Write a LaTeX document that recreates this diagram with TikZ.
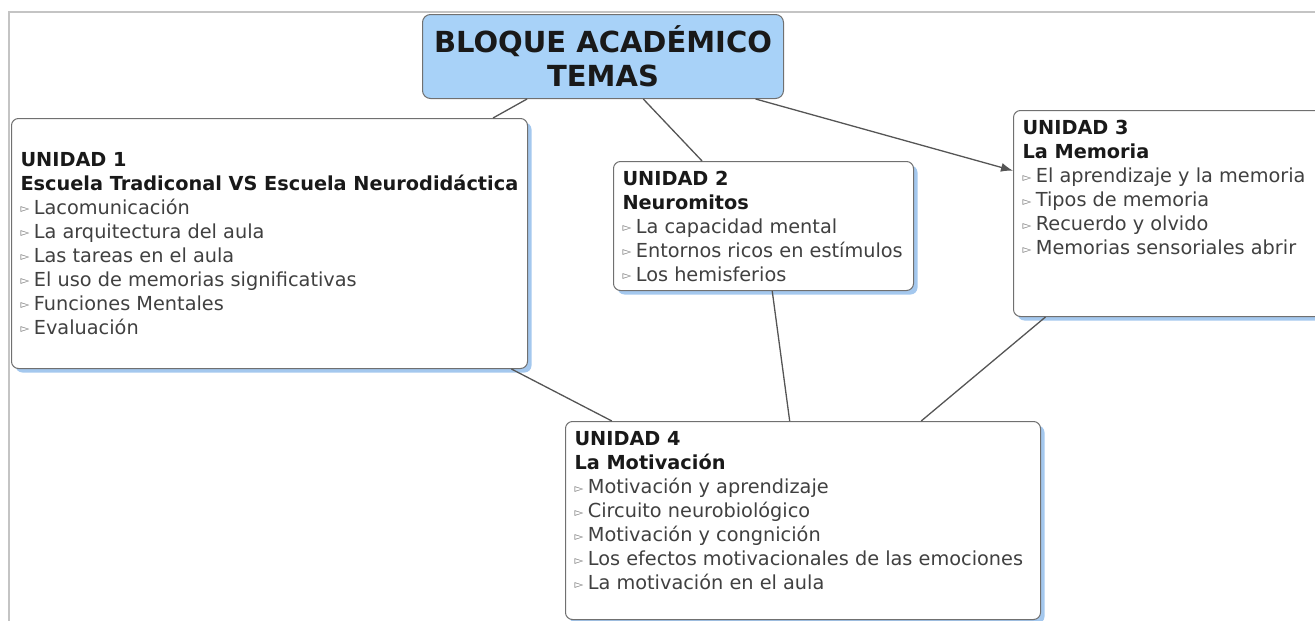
\documentclass[tikz,border=0pt]{standalone}
\usepackage{fontspec}
\setmainfont{DejaVu Sans}
\usetikzlibrary{arrows.meta,shadows}

\definecolor{azultema}{HTML}{A8D2F8}
\definecolor{sombra}{HTML}{A4C8EE}
\definecolor{borde}{HTML}{707070}
\definecolor{linea}{HTML}{555555}
\definecolor{texto}{HTML}{404040}
\definecolor{marco}{HTML}{C4C4C4}

% bullet item of a unit
\newcommand{\itm}[1]{\raisebox{1.5pt}{\fontsize{11.5}{11.5}\selectfont\color{texto!70}▻}\hspace{4.5pt}{\color{texto}#1}}
\newcommand{\cabeza}[1]{{\bfseries\color{black!90}#1}}

\tikzset{
	tema/.style={draw=borde, line width=1pt, fill=azultema, rounded corners=8pt,
		anchor=north west, minimum width=361pt, minimum height=84pt, align=center,
		font=\bfseries\fontsize{29}{34}\selectfont, text=black!90},
	unidad/.style={draw=borde, line width=1pt, fill=white, rounded corners=7pt,
		anchor=north west, inner xsep=9pt, inner ysep=10pt,
		drop shadow={shadow xshift=4pt, shadow yshift=-4pt, fill=sombra, opacity=1},
		font=\fontsize{19.3}{24}\selectfont},
	enlace/.style={draw=linea, line width=1.3pt},
	flecha/.style={enlace, -{Latex[length=12pt,width=9pt]}}
}

\begin{document}
\begin{tikzpicture}[x=1pt, y=-1pt]
	\path[use as bounding box, clip] (0,0) rectangle (1315,621);
	\draw[marco, line width=1.2pt] (9,621) -- (9,12) -- (1315,12);

	\node[tema] (titulo) at (422,14) {BLOQUE ACADÉMICO\\TEMAS};

	\node[unidad] (u1) at (11,118) {\parbox[c][230pt][c]{498pt}{%
		\cabeza{UNIDAD 1}\\
		\cabeza{Escuela Tradiconal VS Escuela Neurodidáctica}\\
		\itm{Lacomunicación}\\
		\itm{La arquitectura del aula}\\
		\itm{Las tareas en el aula}\\
		\itm{El uso de memorias significativas}\\
		\itm{Funciones Mentales}\\
		\itm{Evaluación}}};

	\node[unidad] (u2) at (613,161) {\parbox[c][109pt][c]{282pt}{%
		\cabeza{UNIDAD 2}\\
		\cabeza{Neuromitos}\\
		\itm{La capacidad mental}\\
		\itm{Entornos ricos en estímulos}\\
		\itm{Los hemisferios}}};

	\node[unidad] (u3) at (1013,110) {\parbox[t][186pt][t]{292pt}{%
		\cabeza{UNIDAD 3}\\
		\cabeza{La Memoria}\\
		\itm{El aprendizaje y la memoria}\\
		\itm{Tipos de memoria}\\
		\itm{Recuerdo y olvido}\\
		\itm{Memorias sensoriales abrir}}};

	\node[unidad] (u4) at (565,421) {\parbox[t][178pt][t]{457pt}{%
		\cabeza{UNIDAD 4}\\
		\cabeza{La Motivación}\\
		\itm{Motivación y aprendizaje}\\
		\itm{Circuito neurobiológico}\\
		\itm{Motivación y congnición}\\
		\itm{Los efectos motivacionales de las emociones}\\
		\itm{La motivación en el aula}}};

	% links
	\draw[enlace] (titulo) -- (u1);
	\draw[enlace] (titulo) -- (u2);
	\draw[flecha] (titulo) -- (u3);
	\draw[enlace] (u1) -- (u4);
	\draw[enlace] (u2) -- (u4);
	\draw[enlace] (u3) -- (u4);
\end{tikzpicture}
\end{document}
